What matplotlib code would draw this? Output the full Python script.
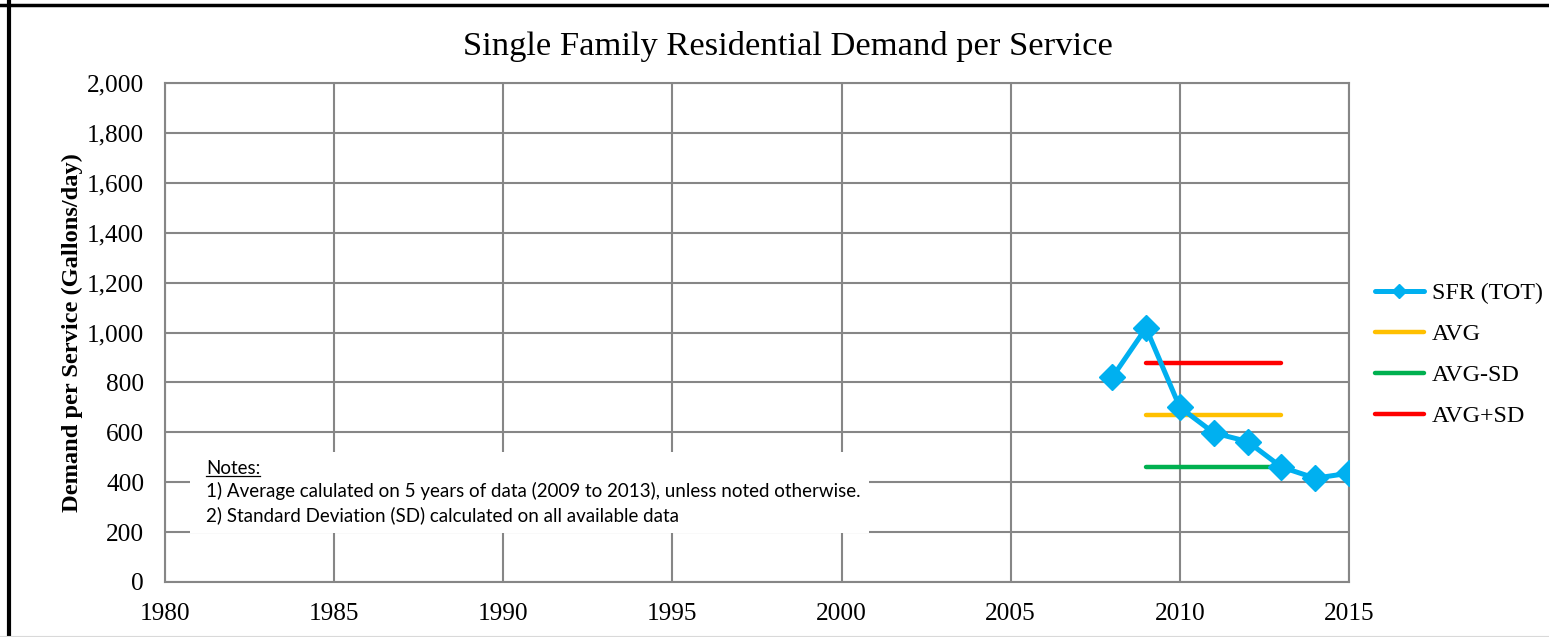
import matplotlib
matplotlib.use("Agg")
import matplotlib.pyplot as plt
from matplotlib.lines import Line2D
from matplotlib.patches import Rectangle
from matplotlib.ticker import FuncFormatter, MultipleLocator

# ---- data ----
years = [2008, 2009, 2010, 2011, 2012, 2013, 2014, 2015]
sfr_tot = [820, 1018, 700, 598, 563, 461, 416, 436]
avg_years = [2009, 2013]
avg_val = 668
avg_minus_sd = 460
avg_plus_sd = 879
title = "Single Family Residential Demand per Service"
ylabel = "Demand per Service (Gallons/day)"
notes = ["Notes:",
         "1) Average calulated on 5 years of data (2009 to 2013), unless noted otherwise.",
         "2) Standard Deviation (SD) calculated on all available data"]

serif = ["Liberation Serif", "DejaVu Serif"]
W, H = 1549, 637
fig = plt.figure(figsize=(W / 100, H / 100), dpi=100)
ax = fig.add_axes([165 / W, 1 - 582 / H, (1349 - 165) / W, (582 - 83) / H])

ax.plot(years, sfr_tot, color="#00B0F0", lw=3.6, marker="D", markersize=13,
        label="SFR (TOT)", zorder=5, solid_capstyle="round")
ax.plot(avg_years, [avg_val] * 2, color="#FFC000", lw=3.2, label="AVG",
        solid_capstyle="round", zorder=4)
ax.plot(avg_years, [avg_minus_sd] * 2, color="#00B050", lw=3.2, label="AVG-SD",
        solid_capstyle="round", zorder=4)
ax.plot(avg_years, [avg_plus_sd] * 2, color="#FF0000", lw=3.2, label="AVG+SD",
        solid_capstyle="round", zorder=4)

ax.set_xlim(1980, 2015)
ax.set_ylim(0, 2000)
ax.xaxis.set_major_locator(MultipleLocator(5))
ax.yaxis.set_major_locator(MultipleLocator(200))
ax.yaxis.set_major_formatter(FuncFormatter(lambda v, p: f"{int(v):,}"))
ax.grid(True, color="#868686", lw=1.5)
ax.set_axisbelow(True)
for s in ax.spines.values():
    s.set_color("#868686")
    s.set_linewidth(1.5)
ax.tick_params(length=0, labelsize=18.2, pad=15)
for lab in ax.get_xticklabels() + ax.get_yticklabels():
    lab.set_family(serif)

ax.set_ylabel(ylabel, fontsize=17.6, fontweight="bold", family=serif, labelpad=3)
fig.text(0.5 * (466 + 1110) / W, 1 - 47 / H, title, ha="center", va="center",
         fontsize=24.8, family=serif)

# notes box
ax.add_patch(Rectangle((0.021, 0.098), 0.574, 0.162, transform=ax.transAxes,
                       facecolor="white", edgecolor="none", zorder=3))
x0 = (206 - 165) / 1184
nf = ["Lato", "DejaVu Sans"]
t0 = ax.text(x0, (582 - 468) / 499, notes[0], transform=ax.transAxes,
             fontsize=13.5, family=nf, va="center", zorder=6)
ax.text(x0, (582 - 491) / 499, notes[1], transform=ax.transAxes,
        fontsize=13.5, family=nf, va="center", zorder=6)
ax.text(x0, (582 - 515) / 499, notes[2], transform=ax.transAxes,
        fontsize=13.5, family=nf, va="center", zorder=6)
fig.canvas.draw()
bb = t0.get_window_extent()
ax.add_line(Line2D([bb.x0, bb.x1], [bb.y0 + 1, bb.y0 + 1], transform=None,
                   color="black", lw=0.9, zorder=6))

leg = fig.legend(loc="center left", bbox_to_anchor=(1353 / W, 1 - 355 / H),
                 frameon=False, prop={"family": serif, "size": 17.3},
                 handlelength=2.05, handletextpad=0.33, labelspacing=0.8,
                 markerscale=0.55)

# outer border
fig.add_artist(Line2D([9 / W, 9 / W], [0, 1], transform=fig.transFigure,
                      color="black", lw=3))
fig.add_artist(Line2D([0, 1], [1 - 4.5 / H, 1 - 4.5 / H], transform=fig.transFigure,
                      color="black", lw=2.5))
fig.add_artist(Line2D([0, 1], [1 - 635.5 / H, 1 - 635.5 / H], transform=fig.transFigure,
                      color="#d9d9d9", lw=0.8))

fig.savefig("out.png", dpi=100)
